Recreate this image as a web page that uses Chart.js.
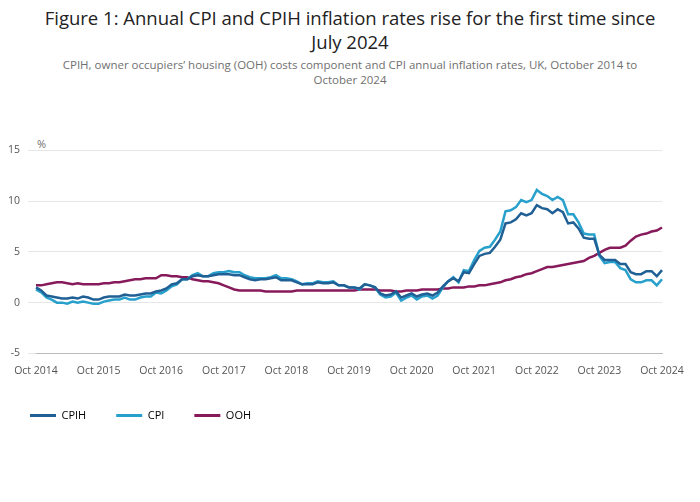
<!DOCTYPE html>
<html>
<head>
<meta charset="utf-8">
<script src="https://cdn.jsdelivr.net/npm/chart.js@4"></script>
<style>
body { margin: 0; width: 700px; height: 502px; background: #fff; font-family: "Open Sans", sans-serif; position: relative; overflow: hidden; }
h1 { margin: 0; position: absolute; top: 6px; left: 30px; width: 640px; text-align: center; font-size: 18.5px; font-weight: normal; color: #222; line-height: 24px; }
p.sub { margin: 0; position: absolute; top: 57px; left: 40px; width: 620px; text-align: center; font-size: 11.5px; color: #707070; line-height: 15px; }
#unit { position: absolute; top: 136px; left: 37px; font-size: 11px; color: #707070; }
#wrap { position: absolute; top: 136px; left: 0; width: 700px; height: 295px; }
</style>
</head>
<body>
<h1>Figure 1: Annual CPI and CPIH inflation rates rise for the first time since July 2024</h1>
<p class="sub">CPIH, owner occupiers’ housing (OOH) costs component and CPI annual inflation rates, UK, October 2014 to October 2024</p>
<div id="unit">%</div>
<div id="wrap"><canvas id="chart"></canvas></div>
<script>
const months = ['Jan','Feb','Mar','Apr','May','Jun','Jul','Aug','Sep','Oct','Nov','Dec'];
const labels = [];
for (let y = 2014; y <= 2024; y++) {
    months.forEach((m, i) => {
        if ((y === 2014 && i < 9) || (y === 2024 && i > 9)) return;
        labels.push(m + ' ' + y);
    });
}

const cpih = [1.5,1.2,0.7,
    0.6,0.5,0.4,0.4,0.5,0.4,0.6,0.5,0.3,0.3,0.5,0.6,
    0.6,0.6,0.8,0.7,0.7,0.8,0.9,0.9,1.1,1.2,1.4,1.8,
    1.9,2.3,2.3,2.6,2.7,2.6,2.6,2.7,2.8,2.8,2.8,2.7,
    2.7,2.5,2.3,2.2,2.3,2.3,2.4,2.5,2.2,2.2,2.2,2.0,
    1.8,1.8,1.8,2.0,1.9,1.9,2.0,1.7,1.7,1.5,1.5,1.4,
    1.8,1.7,1.5,0.9,0.7,0.8,1.1,0.5,0.7,0.9,0.6,0.8,
    0.9,0.7,1.0,1.6,2.1,2.4,2.1,3.0,2.9,3.8,4.6,4.8,
    4.9,5.5,6.2,7.8,7.9,8.2,8.8,8.6,8.8,9.6,9.3,9.2,
    8.8,9.2,8.9,7.8,7.9,7.3,6.4,6.3,6.3,4.7,4.2,4.2,
    4.2,3.8,3.8,3.0,2.8,2.8,3.1,3.1,2.6,3.2];
const cpi = [1.3,1.0,0.5,
    0.3,0.0,0.0,-0.1,0.1,0.0,0.1,0.0,-0.1,-0.1,0.1,0.2,
    0.3,0.3,0.5,0.3,0.3,0.5,0.6,0.6,1.0,0.9,1.2,1.6,
    1.8,2.3,2.3,2.7,2.9,2.6,2.6,2.9,3.0,3.0,3.1,3.0,
    3.0,2.7,2.5,2.4,2.4,2.4,2.5,2.7,2.4,2.4,2.3,2.1,
    1.8,1.9,1.9,2.1,2.0,2.0,2.1,1.7,1.7,1.5,1.5,1.3,
    1.8,1.7,1.5,0.8,0.5,0.6,1.0,0.2,0.5,0.7,0.3,0.6,
    0.7,0.4,0.7,1.5,2.1,2.5,2.0,3.2,3.1,4.2,5.1,5.4,
    5.5,6.2,7.0,9.0,9.1,9.4,10.1,9.9,10.1,11.1,10.7,10.5,
    10.1,10.4,10.1,8.7,8.7,7.9,6.8,6.7,6.7,4.6,3.9,4.0,
    4.0,3.4,3.2,2.3,2.0,2.0,2.2,2.2,1.7,2.3];
const ooh = [1.7,1.7,1.8,
    1.9,2.0,2.0,1.9,1.8,1.9,1.8,1.8,1.8,1.8,1.9,1.9,
    2.0,2.0,2.1,2.2,2.3,2.3,2.4,2.4,2.4,2.7,2.7,2.6,
    2.6,2.5,2.5,2.3,2.2,2.1,2.1,2.0,1.9,1.7,1.5,1.3,
    1.2,1.2,1.2,1.2,1.2,1.1,1.1,1.1,1.1,1.1,1.1,1.2,
    1.2,1.2,1.2,1.2,1.2,1.2,1.2,1.2,1.2,1.2,1.2,1.3,
    1.3,1.3,1.3,1.2,1.2,1.2,1.1,1.1,1.2,1.2,1.2,1.3,
    1.3,1.3,1.3,1.4,1.4,1.5,1.5,1.5,1.6,1.6,1.7,1.7,
    1.8,1.9,2.0,2.2,2.3,2.5,2.6,2.8,2.9,3.1,3.3,3.5,
    3.5,3.6,3.7,3.8,3.9,4.0,4.1,4.4,4.6,4.9,5.2,5.4,
    5.4,5.4,5.6,6.1,6.5,6.7,6.8,7.0,7.1,7.4];

const yTicks = [-5, 0, 5, 10, 15];

function series(label, data, color) {
    return { label: label, data: data, borderColor: color, backgroundColor: color,
        borderWidth: 2.5, pointRadius: 0, tension: 0 };
}

new Chart(document.getElementById('chart'), {
    type: 'line',
    data: {
        labels: labels,
        datasets: [
            series('CPIH', cpih, '#206095'),
            series('CPI', cpi, '#27a0cc'),
            series('OOH', ooh, '#871a5b')
        ]
    },
    options: {
        responsive: true,
        maintainAspectRatio: false,
        animation: false,
        layout: { padding: { top: 14, right: 38, left: 0 } },
        plugins: {
            legend: {
                position: 'bottom',
                align: 'start',
                labels: {
                    color: '#555', font: { family: 'Open Sans', size: 11 },
                    boxWidth: 26, boxHeight: 0, padding: 30,
                    generateLabels: chart => chart.data.datasets.map((d, i) => ({
                        text: d.label, strokeStyle: d.borderColor, fillStyle: d.borderColor,
                        lineWidth: 3, datasetIndex: i
                    }))
                }
            },
            tooltip: { enabled: false }
        },
        scales: {
            x: {
                grid: { display: false },
                border: { color: '#bbb' },
                ticks: {
                    autoSkip: false, maxRotation: 0, color: '#555',
                    font: { family: 'Open Sans', size: 10.5 },
                    callback: (v, i) => i % 12 === 0 ? 'Oct ' + (2014 + i / 12) : null
                }
            },
            y: {
                min: -5, max: 15,
                afterBuildTicks: axis => { axis.ticks = yTicks.map(v => ({ value: v })); },
                grid: { color: '#e6e6e6' },
                border: { display: false },
                ticks: { color: '#555', font: { family: 'Open Sans', size: 10.5 }, padding: 8 }
            }
        }
    }
});
</script>
</body>
</html>
